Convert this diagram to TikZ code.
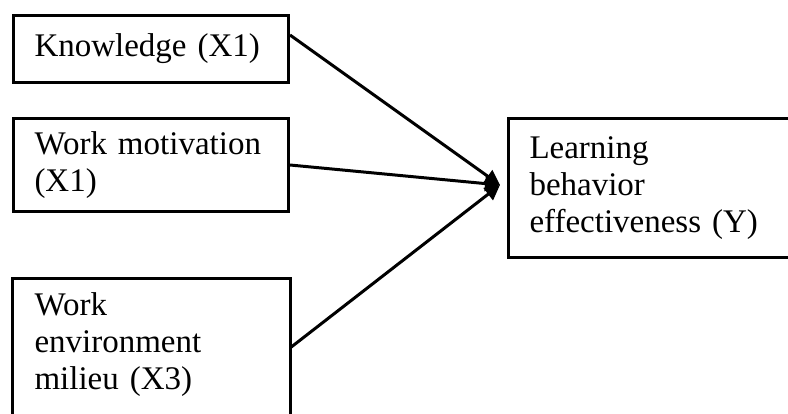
\documentclass[tikz,border=0pt]{standalone}
\usepackage{fontspec}
\setmainfont{Liberation Serif}
\usetikzlibrary{arrows.meta,calc}
\begin{document}
\begin{tikzpicture}[x=1pt,y=-1pt,
  box/.style={draw=black,line width=3pt,inner xsep=21pt,inner ysep=4pt,
    align=left,text width=233pt,minimum width=275pt,anchor=north west,
    font=\fontsize{33}{37}\selectfont},
  frame/.style={draw=black,line width=3pt},
  link/.style={line width=3pt,-{Triangle[length=15pt,width=15pt]}}]
\useasboundingbox (0,0) rectangle (788,414);
\clip (0,0) rectangle (788,414);
\fill[white] (0,0) rectangle (788,414);
\node[box,minimum height=67pt] (b1) at (12,14) {Knowledge (X1)};
\node[box,minimum height=93pt] (b2) at (12,117) {Work motivation\\(X1)};
\node[box,draw=none,minimum height=128pt] (b3) at (12,279) {Work\\environment\\milieu (X3)};
\draw[frame] (b3.north west) rectangle ($(b3.north east)+(0,160)$);
\node[box,minimum height=139pt,minimum width=300pt,text width=258pt,inner xsep=20pt] (y) at (507,117) {Learning\\behavior\\effectiveness (Y)};
\coordinate (tip) at (500,185);
\draw[link] ($(b1.north east)+(0,21)$) -- (tip);
\draw[link] (b2.east) -- (tip);
\draw[link] ($(b3.north east)+(0,69)$) -- (tip);
\end{tikzpicture}
\end{document}
